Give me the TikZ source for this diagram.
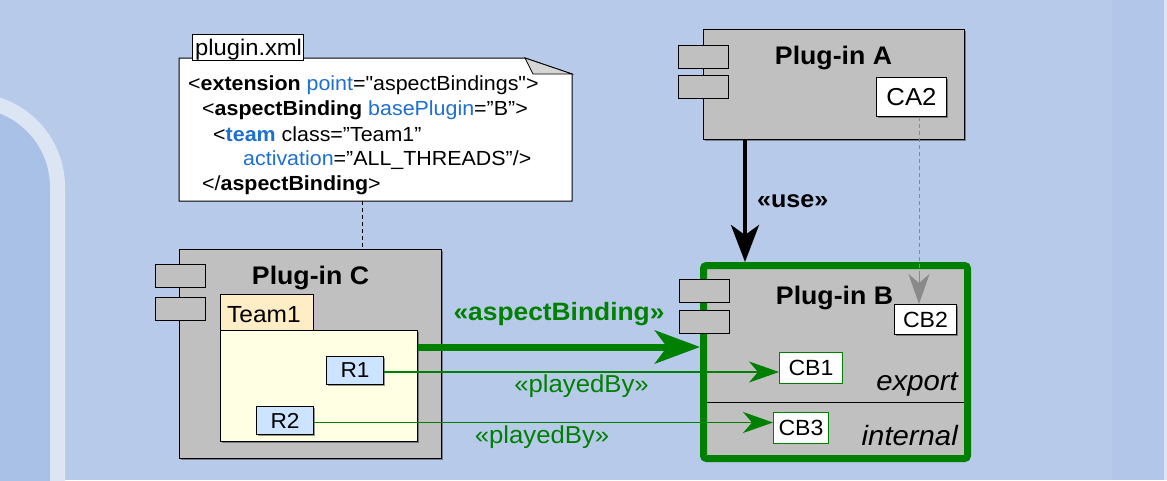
\documentclass[tikz,border=0pt]{standalone}
\usepackage{fontspec}
\setmainfont[FakeStretch=1.05, Ligatures=TeXOff]{Liberation Sans}
\usetikzlibrary{arrows.meta,shadows}

\definecolor{bgblue}{HTML}{B7CAEA}
\definecolor{bandblue}{HTML}{B2C6E9}
\definecolor{panelblue}{HTML}{A9C1E7}
\definecolor{panelrim}{HTML}{DCE5F4}
\definecolor{compgray}{HTML}{C0C0C0}
\definecolor{foldgray}{HTML}{D6D6D6}
\definecolor{xmlblue}{HTML}{1E6FD0}
\definecolor{bindgreen}{HTML}{008000}
\definecolor{teamtab}{HTML}{FFEDC6}
\definecolor{teambody}{HTML}{FFFFE4}
\definecolor{rolefill}{HTML}{CCE4FF}
\definecolor{depgray}{HTML}{8A8A8A}

\newcommand\sz[1]{\fontsize{#1}{#1}\selectfont}

\tikzset{
  shade box/.style={drop shadow={shadow xshift=1.8pt, shadow yshift=-1.8pt, opacity=.55, fill=black!75}},
  rbox/.style={draw, line width=1pt, inner sep=0pt, anchor=north west},
  comp/.style={rbox, fill=compgray, shade box},
  port/.style={rbox, fill=compgray, minimum width=50, minimum height=23},
  clsbox/.style={rbox, fill=white, shade box},
  rolebox/.style={rbox, fill=rolefill, shade box},
  compname/.style={font=\sz{25.4}\bfseries, anchor=base, inner sep=0pt},
  xmlline/.style={font=\sz{20.4}, anchor=base west, inner sep=0pt},
  greenlabel/.style={text=bindgreen, inner sep=0pt, anchor=base},
  playedby/.style={draw=bindgreen, line width=1.2pt,
    -{Stealth[length=30, width=21, inset=9]}, fill=bindgreen},
}

\begin{document}
\begin{tikzpicture}[x=1pt, y=-1pt]
  \useasboundingbox (0,0) rectangle (1167,480);
  \clip (0,0) rectangle (1167,480);

  % slide background
  \fill[bgblue] (0,0) rectangle (1167,480);
  \fill[bandblue] (1112,0) rectangle (1164,480);
  \fill[panelrim] (1164,0) rectangle (1167,480);
  \fill[panelblue] (57.5,490) -- (57.5,187)
    arc[start angle=0, end angle=-120, radius=86.5] -- (-60,490) -- cycle;
  \draw[panelrim, line width=15pt] (57.5,490) -- (57.5,187)
    arc[start angle=0, end angle=-120, radius=86.5];

  % plugin.xml note
  \filldraw[fill=white, draw=black, line width=1pt]
    (179,58) -- (525,58) -- (572,74) -- (572,201) -- (179,201) -- cycle;
  \filldraw[fill=foldgray, draw=black, line width=.8pt]
    (525,58) -- (533,74) -- (572,74) -- cycle;
  \node[rbox, fill=white, minimum width=111, minimum height=26] (tab) at (192,34) {};
  \node[font=\sz{22.6}, anchor=base west, inner sep=0pt] (tabtext) at (195,55) {plugin.xml};
  \node[xmlline] (xml1) at (188,90)
    {<\textbf{extension} \textcolor{xmlblue}{point}="aspectBindings">};
  \node[xmlline] (xml2) at (202,115.5)
    {<\textbf{aspectBinding} \textcolor{xmlblue}{basePlugin}=”B”>};
  \node[xmlline] (xml3) at (213,141)
    {<\textbf{\textcolor{xmlblue}{team}} class=”Team1”};
  \node[xmlline] (xml4) at (243,165.5)
    {\textcolor{xmlblue}{activation}=”ALL\_THREADS”/>};
  \node[xmlline] (xml5) at (202,190)
    {</\textbf{aspectBinding}>};
  \coordinate (notefoot) at (362,201);

  % Plug-in A
  \node[comp, minimum width=261, minimum height=110] (A) at (703,29) {};
  \node[port] (Ap1) at (678,45) {};
  \node[port] (Ap2) at (678,75) {};
  \node[compname] (Aname) at (833.5,64) {Plug-in A};
  \node[clsbox, minimum width=70, minimum height=39, font=\sz{24.5}] (CA2) at (876,77) {CA2};

  % Plug-in C
  \node[comp, minimum width=262, minimum height=209] (C) at (179,249) {};
  \node[port] (Cp1) at (155,264) {};
  \node[port] (Cp2) at (155,297) {};
  \node[compname] (Cname) at (310.5,284) {Plug-in C};
  \node[rbox, fill=teambody, minimum width=197, minimum height=111, shade box] (team) at (220,330) {};
  \node[rbox, fill=teamtab, minimum width=93, minimum height=36] (teamtab) at (220,294) {};
  \node[font=\sz{23.3}, anchor=base west, inner sep=0pt] (teamname) at (227,322) {Team1};
  \node[rolebox, minimum width=57, minimum height=28, font=\sz{21.6}] (R1) at (326,356) {R1};
  \node[rolebox, minimum width=57, minimum height=28, font=\sz{21.6}] (R2) at (256,406) {R2};

  % Plug-in B
  \node[rbox, draw=bindgreen, line width=7pt, fill=compgray, rounded corners=3pt,
        minimum width=264, minimum height=193, shade box] (B) at (700,262) {};
  \node[port] (Bp1) at (679,279) {};
  \node[port] (Bp2) at (679,310) {};
  \node[compname] (Bname) at (834.5,304) {Plug-in B};
  \node[clsbox, minimum width=62, minimum height=30, font=\sz{22}] (CB2) at (894,304) {CB2};
  \node[rbox, draw=bindgreen, fill=white, minimum width=63, minimum height=31, font=\sz{22}] (CB1) at (779,352) {CB1};
  \node[rbox, draw=bindgreen, fill=white, minimum width=55, minimum height=31, font=\sz{22}] (CB3) at (773,412) {CB3};
  \coordinate (sepY) at (0,402);
  \draw[line width=1pt, shorten <=7pt, shorten >=7pt] (B.west |- sepY) -- (B.east |- sepY);
  \node[font=\sz{27.9}\itshape, anchor=base east, inner sep=0pt] (export) at (958,390) {export};
  \node[font=\sz{27.9}\itshape, anchor=base east, inner sep=0pt] (internal) at (958,445) {internal};

  % note attachment
  \draw[dash pattern=on 4pt off 3pt, line width=1pt] (notefoot) -- (notefoot |- C.north);

  % use dependency A -> B
  \coordinate (useX) at (745,0);
  \draw[line width=4pt, -{Stealth[length=37, width=28, inset=10]}]
    (A.south -| useX) -- (B.north -| useX);
  \node[font=\sz{23.9}\bfseries, anchor=base west, inner sep=0pt] (uselabel) at (757,207) {«use»};

  % CA2 -> CB2 dependency
  \coordinate (depX) at (919,0);
  \draw[depgray, line width=1pt, dash pattern=on 4pt off 3pt]
    (CA2.south -| depX) -- ([yshift=30pt]CB2.north -| depX);
  \draw[depgray, fill=depgray, line width=1pt, -{Stealth[length=30, width=21, inset=9]}]
    ([yshift=31pt]CB2.north -| depX) -- (CB2.north -| depX);

  % aspect binding C/Team1 -> B
  \coordinate (bindY) at (0,347);
  \draw[bindgreen, line width=7pt, -{Stealth[length=45, width=33, inset=12]}]
    (team.east |- bindY) -- (B.west |- bindY);
  \node[greenlabel, font=\sz{25.1}\bfseries] (bindlabel) at (559,320) {«aspectBinding»};

  % playedBy relations
  \draw[playedby] ([yshift=-1.5pt]R1.east) -- ([yshift=-1.5pt]R1.east -| CB1.west);
  \draw[playedby] ([yshift=-2pt]R2.east) -- ([yshift=-2pt]R2.east -| CB3.west);
  \node[greenlabel, font=\sz{24.5}] (pb1) at (581.5,392) {«playedBy»};
  \node[greenlabel, font=\sz{24.5}] (pb2) at (542,443) {«playedBy»};
\end{tikzpicture}
\end{document}
